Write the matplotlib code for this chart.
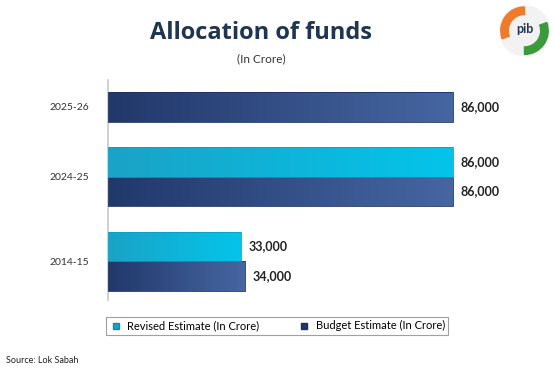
import numpy as np
import matplotlib.pyplot as plt
from matplotlib.patches import Circle, Wedge

years = ['2014-15', '2024-25', '2025-26']
budget = [34000, 86000, 86000]
revised = [33000, 86000, None]
labels = ['Revised Estimate (In Crore)', 'Budget Estimate (In Crore)']

plt.rcParams['font.family'] = ['Lato', 'DejaVu Sans']

budget_cols = ('#21386a', '#4666a2')
revised_cols = ('#1aa3c6', '#04c4ea')


def gradient_bar(ax, bar, cols):
    x0, y0 = bar.get_x(), bar.get_y()
    w, h = bar.get_width(), bar.get_height()
    c0 = np.array(plt.matplotlib.colors.to_rgb(cols[0]))
    c1 = np.array(plt.matplotlib.colors.to_rgb(cols[1]))
    t = np.linspace(0, 1, 256)[None, :, None]
    img = c0 + (c1 - c0) * t
    im = ax.imshow(img, extent=[x0, x0 + w, y0, y0 + h], aspect='auto',
                   zorder=2, interpolation='bilinear')
    im.set_clip_path(bar)
    bar.set_facecolor('none')


def run():
    fig = plt.figure(figsize=(5.55, 3.72), dpi=100)
    ax = fig.add_axes([0.195, 0.194, 0.71, 0.591])

    h = 0.35
    pos = np.arange(len(years))
    bbars = ax.barh(pos, budget, height=h, color=budget_cols[1],
                    edgecolor='#1d3160', linewidth=0.6, zorder=3)
    for b in bbars:
        gradient_bar(ax, b, budget_cols)

    ticks = []
    for i, (p, r) in enumerate(zip(pos, revised)):
        if r is None:
            ticks.append(p)
            continue
        rb = ax.barh(p + h, r, height=h, color=revised_cols[1],
                     edgecolor='#129cc0', linewidth=0.6, zorder=3)[0]
        gradient_bar(ax, rb, revised_cols)
        ax.text(r + 2000, p + h, f'{r:,}', va='center', ha='left',
                fontsize=9, fontweight='bold', color='#222222')
        ticks.append(p + h / 2)
    for p, b in zip(pos, budget):
        ax.text(b + 2000, p, f'{b:,}', va='center', ha='left',
                fontsize=9, fontweight='bold', color='#222222')

    ax.set_yticks(ticks)
    ax.set_yticklabels(years, fontsize=7.5, color='#333333')
    ax.tick_params(axis='y', length=0, pad=14)
    ax.set_xticks([])
    ax.set_xlim(0, 98300)
    ax.set_ylim(-0.284, 2.32)
    for s in ['top', 'right', 'bottom']:
        ax.spines[s].set_visible(False)
    ax.spines['left'].set_color('#c8c8c8')
    ax.spines['left'].set_linewidth(1.2)

    fig.text(0.47, 0.912, 'Allocation of funds', ha='center', va='center',
             fontsize=17, fontweight='bold', color='#1f3552',
             family=['Open Sans', 'DejaVu Sans'])
    fig.text(0.47, 0.843, '(In Crore)', ha='center', va='center',
             fontsize=8.5, color='#333333')
    fig.text(0.01, 0.02, 'Source: Lok Sabah', ha='left', va='bottom',
             fontsize=6.5, color='#222222')

    handles = [plt.Line2D([], [], marker='s', linestyle='', markersize=5,
                          markerfacecolor=revised_cols[0], markeredgecolor='#0e8aa8'),
               plt.Line2D([], [], marker='s', linestyle='', markersize=5,
                          markerfacecolor=budget_cols[0], markeredgecolor='#1d3160')]
    leg = fig.legend(handles, labels, loc='center', bbox_to_anchor=(0.499, 0.124),
                     ncol=2, fontsize=8, frameon=True, fancybox=False,
                     handletextpad=0.4, columnspacing=3.5, borderpad=0.3,
                     handlelength=1.2)
    leg.get_frame().set_edgecolor('#888888')
    leg.get_frame().set_linewidth(0.8)

    # small logo in the corner
    lax = fig.add_axes([0.9, 0.85, 0.09, 0.135])
    lax.set_xlim(-1, 1)
    lax.set_ylim(-1, 1)
    lax.set_aspect('equal')
    lax.axis('off')
    lax.add_patch(Circle((0, 0), 1, color='#f2f2f2'))
    lax.add_patch(Wedge((0, 0), 0.95, 90, 200, width=0.3, color='#ee7a2c'))
    lax.add_patch(Wedge((0, 0), 0.95, 270, 20, width=0.3, color='#3a9a3c'))
    lax.text(0, 0.05, 'pib', ha='center', va='center', fontsize=9,
             fontweight='bold', color='#1f3552')

    fig.savefig('out.png', dpi=100)


if __name__ == '__main__':
    run()
